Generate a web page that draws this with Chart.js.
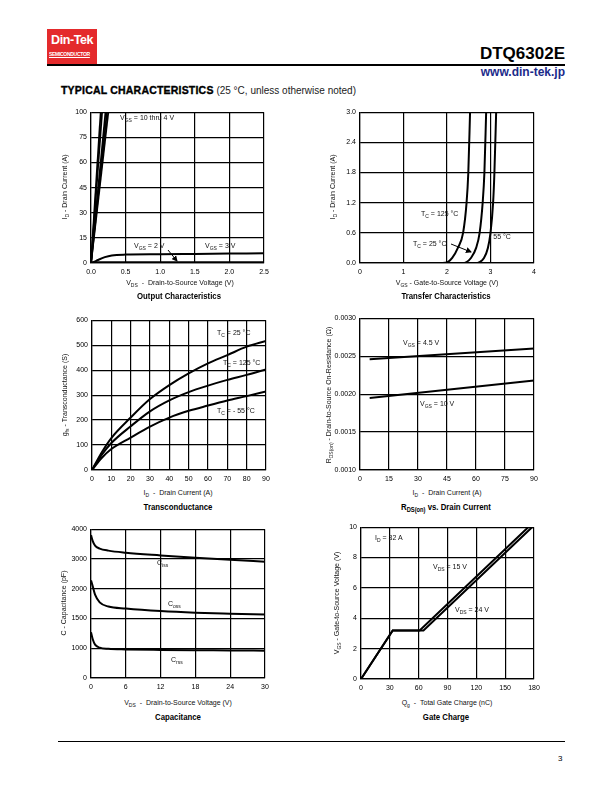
<!DOCTYPE html>
<html>
<head>
<meta charset="utf-8">
<script src="https://cdn.jsdelivr.net/npm/chart.js@4.4.1/dist/chart.umd.min.js"></script>
<style>
body{margin:0;width:612px;height:792px;position:relative;background:#fff;font-family:"Liberation Sans",Arial,sans-serif;overflow:hidden;color:#000}
.abs{position:absolute;white-space:nowrap}
canvas{position:absolute}
.lbl{position:absolute;white-space:nowrap;font-size:7px;line-height:8px;color:#111}
sub{font-size:5px;vertical-align:-1.5px;line-height:0}
.ttl{position:absolute;white-space:nowrap;font-weight:bold;font-size:9.5px;line-height:10px;transform:translateX(-50%) scaleX(0.82)}
.ttl sub{font-size:7px}
.xt{position:absolute;white-space:nowrap;font-size:7px;line-height:8px;transform:translateX(-50%);color:#111}
.yt{position:absolute;white-space:nowrap;font-size:7px;line-height:8px;transform:translate(-50%,-50%) rotate(-90deg);color:#111}
</style>
</head>
<body>

<!-- header -->
<div class="abs" style="left:47px;top:29px;width:50px;height:35px;background:#e42a2c"></div>
<div class="abs" style="left:51px;top:33px;color:#fff;font-weight:bold;font-size:12.5px;line-height:15px;letter-spacing:-0.4px">Din-Tek</div>
<div class="abs" style="left:49px;top:51px;color:#fff;font-weight:bold;font-size:5.6px;line-height:7px;letter-spacing:-0.35px;text-decoration:underline;transform:scaleX(0.9);transform-origin:left top">SEMICONDUCTOR</div>
<div class="abs" style="left:47px;top:64px;width:518px;height:1.5px;background:#000"></div>
<div class="abs" style="right:47px;top:45px;font-weight:bold;font-size:17px;line-height:18px">DTQ6302E</div>
<div class="abs" style="right:47px;top:66px;font-weight:bold;font-size:12px;line-height:13px;color:#1b2a8a">www.din-tek.jp</div>
<div class="abs" style="left:61px;top:84px;font-size:10px;line-height:12px"><span style="font-weight:900;font-size:10.5px;-webkit-text-stroke:0.35px #000;letter-spacing:0.2px">TYPICAL CHARACTERISTICS</span> <span style="color:#222">(25 °C, unless otherwise noted)</span></div>

<!-- footer -->
<div class="abs" style="left:58px;top:741px;width:507px;height:1px;background:#000"></div>
<div class="abs" style="left:558px;top:754px;font-size:8px;line-height:9px">3</div>

<canvas id="c1" width="220" height="178"></canvas>
<canvas id="c2" width="220" height="178"></canvas>
<canvas id="c3" width="220" height="178"></canvas>
<canvas id="c4" width="220" height="178"></canvas>
<canvas id="c5" width="220" height="178"></canvas>
<canvas id="c6" width="220" height="178"></canvas>

<!-- chart 1 texts -->
<div class="yt" style="left:65px;top:187px">I<sub>D</sub> - Drain Current (A)</div>
<div class="xt" style="left:180px;top:279px">V<sub>DS</sub> &nbsp;- &nbsp;Drain-to-Source Voltage (V)</div>
<div class="ttl" style="left:179px;top:291px">Output Characteristics</div>
<div class="lbl" style="left:120px;top:114px">V<sub>GS</sub> = 10 thru 4 V</div>
<div class="lbl" style="left:134px;top:242px">V<sub>GS</sub> = 2 V</div>
<div class="lbl" style="left:205px;top:242px">V<sub>GS</sub> = 3 V</div>

<!-- chart 2 texts -->
<div class="yt" style="left:333px;top:187px">I<sub>D</sub> - Drain Current (A)</div>
<div class="xt" style="left:447px;top:279px">V<sub>GS</sub> - Gate-to-Source Voltage (V)</div>
<div class="ttl" style="left:446px;top:291px">Transfer Characteristics</div>
<div class="lbl" style="left:421px;top:210px">T<sub>C</sub> = 125 °C</div>
<div class="lbl" style="left:413px;top:240px">T<sub>C</sub> = 25 °C</div>
<div class="lbl" style="left:489px;top:233px">- 55 °C</div>

<!-- chart 3 texts -->
<div class="yt" style="left:65px;top:395px">g<sub>fs</sub> - Transconductance (S)</div>
<div class="xt" style="left:178px;top:489px">I<sub>D</sub> &nbsp;- &nbsp;Drain Current (A)</div>
<div class="ttl" style="left:178px;top:502px">Transconductance</div>
<div class="lbl" style="left:217px;top:329px">T<sub>C</sub> = 25 °C</div>
<div class="lbl" style="left:223px;top:359px">T<sub>C</sub> = 125 °C</div>
<div class="lbl" style="left:217px;top:407px">T<sub>C</sub> = - 55 °C</div>

<!-- chart 4 texts -->
<div class="yt" style="left:329px;top:395px">R<sub>DS(on)</sub> - Drain-to-Source On-Resistance (Ω)</div>
<div class="xt" style="left:447px;top:489px">I<sub>D</sub> &nbsp;- &nbsp;Drain Current (A)</div>
<div class="ttl" style="left:446px;top:502px">R<sub>DS(on)</sub> vs. Drain Current</div>
<div class="lbl" style="left:403px;top:339px">V<sub>GS</sub> = 4.5 V</div>
<div class="lbl" style="left:420px;top:400px">V<sub>GS</sub> = 10 V</div>

<!-- chart 5 texts -->
<div class="yt" style="left:64px;top:603px">C - Capacitance (pF)</div>
<div class="xt" style="left:178px;top:699px">V<sub>DS</sub> &nbsp;- &nbsp;Drain-to-Source Voltage (V)</div>
<div class="ttl" style="left:178px;top:712px">Capacitance</div>
<div class="lbl" style="left:157px;top:559px">C<sub>iss</sub></div>
<div class="lbl" style="left:168px;top:600px">C<sub>oss</sub></div>
<div class="lbl" style="left:171px;top:656px">C<sub>rss</sub></div>

<!-- chart 6 texts -->
<div class="yt" style="left:337px;top:603px">V<sub>GS</sub> - Gate-to-Source Voltage (V)</div>
<div class="xt" style="left:447px;top:699px">Q<sub>g</sub> &nbsp;- &nbsp;Total Gate Charge (nC)</div>
<div class="ttl" style="left:446px;top:712px">Gate Charge</div>
<div class="lbl" style="left:375px;top:534px">I<sub>D</sub> = 32 A</div>
<div class="lbl" style="left:433px;top:563px">V<sub>DS</sub> = 15 V</div>
<div class="lbl" style="left:455px;top:606px">V<sub>DS</sub> = 24 V</div>

<svg class="abs" style="left:0;top:0" width="612" height="792">
  <defs>
    <marker id="ah" markerWidth="6" markerHeight="6" refX="5" refY="3" orient="auto" markerUnits="userSpaceOnUse">
      <path d="M0,0 L6,3 L0,6 z" fill="#000"/>
    </marker>
  </defs>
  <line x1="168" y1="250" x2="177" y2="261" stroke="#000" stroke-width="1" marker-end="url(#ah)"/>
  <line x1="451" y1="244" x2="471" y2="252" stroke="#000" stroke-width="1" marker-end="url(#ah)"/>
</svg>

<script>
// ---- output characteristics ----
const outYTicks = [0, 15, 30, 45, 60, 75, 100];
const outSteepTopX = [0.14, 0.16, 0.21, 0.23, 0.25];   // Vgs 10..4 V lines reach 100 A
const out3Vx = [0, 0.05, 0.1, 0.2, 0.3, 0.5, 1.0, 1.5, 2.0, 2.5];
const out3Vy = [0, 0.8, 1.8, 3.5, 4.5, 5.0, 5.2, 5.4, 5.6, 5.8];
const out2Vx = [0, 1.25, 2.5];
const out2Vy = [0.3, 0.3, 0.3];

// ---- transfer characteristics ----
const tr125x = [0, 1.9, 2.0, 2.12, 2.25, 2.37, 2.45, 2.49, 2.53];
const tr125y = [0, 0, 0.01, 0.1, 0.3, 0.6, 1.2, 1.8, 3.0];
const tr25x = [0, 2.35, 2.45, 2.55, 2.67, 2.75, 2.82, 2.86, 2.9];
const tr25y = [0, 0, 0.02, 0.1, 0.3, 0.6, 1.2, 1.8, 3.0];
const trM55x = [0, 2.65, 2.75, 2.85, 2.94, 3.0, 3.06, 3.09, 3.13];
const trM55y = [0, 0, 0.02, 0.1, 0.3, 0.6, 1.2, 1.8, 3.0];

// ---- transconductance ----
const gfsId = [0, 5, 10, 20, 30, 40, 50, 60, 70, 80, 90];
const gfs25 = [0, 70, 128, 210, 284, 340, 387, 427, 460, 494, 517];
const gfs125 = [0, 60, 108, 175, 235, 279, 312, 338, 361, 381, 403];
const gfsM55 = [0, 48, 84, 130, 174, 210, 237, 258, 278, 296, 315];

// ---- rds(on) ----
const rdsId = [5, 90];
const rds45 = [0.00246, 0.0026];
const rds10 = [0.00195, 0.00218];

// ---- capacitance ----
const capYTicks = [0, 1000, 1500, 2000, 3000, 4000];
const capVds = [0, 0.3, 0.7, 1.5, 3, 6, 12, 18, 24, 30];
const ciss = [3800, 3600, 3450, 3350, 3280, 3210, 3120, 3040, 2970, 2910];
const coss = [2280, 2080, 1900, 1770, 1700, 1667, 1624, 1597, 1581, 1568];
const crss = [1270, 1150, 1060, 1010, 980, 961, 944, 933, 928, 917];

// ---- gate charge ----
const qg15 = [0, 33, 61, 174];
const vgs15 = [0, 3.2, 3.2, 10];
const qg24 = [0, 33, 65, 178];
const vgs24 = [0, 3.2, 3.2, 10];

// tick labels on two plots are not evenly valued, map values onto grid steps
function toGrid(v, ticks) {
  for (let i = 0; i < ticks.length - 1; i++) {
    if (v <= ticks[i + 1]) return i + (v - ticks[i]) / (ticks[i + 1] - ticks[i]);
  }
  return ticks.length - 1;
}

function pts(xs, ys, fy) {
  return xs.map((x, i) => ({x: x, y: fy ? fy(ys[i]) : ys[i]}));
}

function line(xs, ys, fy, w, curve) {
  return {
    data: pts(xs, ys, fy),
    showLine: true,
    borderColor: '#000',
    borderWidth: w || 2,
    pointRadius: 0,
    cubicInterpolationMode: curve ? 'monotone' : 'default',
    tension: 0
  };
}

const tickFont = {family: 'Liberation Sans', size: 7};
const YW = 34, XH = 18, PT = 8, PR = 12;

function makeChart(id, area, xs, ys, datasets) {
  const cv = document.getElementById(id);
  cv.width = area.w + YW + PR;
  cv.height = area.h + PT + XH;
  cv.style.left = (area.l - YW) + 'px';
  cv.style.top = (area.t - PT) + 'px';
  const axis = (o, fit) => ({
    type: 'linear',
    min: o.min, max: o.max,
    ticks: {stepSize: o.step, callback: o.fmt, font: tickFont, color: '#000', padding: o.pad, autoSkip: false, maxRotation: 0},
    grid: {color: '#000', lineWidth: 1.2, drawTicks: false},
    border: {color: '#000', width: 1.2},
    afterFit: fit
  });
  new Chart(cv, {
    type: 'scatter',
    data: {datasets: datasets},
    options: {
      responsive: false,
      animation: false,
      layout: {padding: {top: PT, right: PR, left: 0, bottom: 0}},
      plugins: {legend: {display: false}, tooltip: {enabled: false}},
      scales: {
        x: axis(Object.assign({pad: 5}, xs), s => { s.height = XH; }),
        y: axis(Object.assign({pad: 4}, ys), s => { s.width = YW; })
      }
    }
  });
}

const fixed = n => v => Number(v).toFixed(n);

const outG = v => toGrid(v, outYTicks);
makeChart('c1', {l: 91, t: 112, w: 173, h: 151},
  {min: 0, max: 2.5, step: 0.5, fmt: fixed(1)},
  {min: 0, max: 6, step: 1, fmt: v => outYTicks[v]},
  outSteepTopX.map(x => line([0, x], [0, 100], outG, 1.8))
    .concat([line(out3Vx, out3Vy, outG, 2, true), line(out2Vx, out2Vy, outG, 2.5)]));

makeChart('c2', {l: 360, t: 112, w: 174, h: 151},
  {min: 0, max: 4, step: 1, fmt: fixed(0)},
  {min: 0, max: 3, step: 0.6, fmt: fixed(1)},
  [line(tr125x, tr125y, null, 2, true), line(tr25x, tr25y, null, 2, true), line(trM55x, trM55y, null, 2, true)]);

makeChart('c3', {l: 92, t: 320, w: 174, h: 150},
  {min: 0, max: 90, step: 10, fmt: fixed(0)},
  {min: 0, max: 600, step: 100, fmt: fixed(0)},
  [line(gfsId, gfs25, null, 2, true), line(gfsId, gfs125, null, 2, true), line(gfsId, gfsM55, null, 2, true)]);

makeChart('c4', {l: 360, t: 318, w: 174, h: 152},
  {min: 0, max: 90, step: 15, fmt: fixed(0)},
  {min: 0.001, max: 0.003, step: 0.0005, fmt: fixed(4)},
  [line(rdsId, rds45, null, 2), line(rdsId, rds10, null, 2)]);

const capG = v => toGrid(v, capYTicks);
makeChart('c5', {l: 91, t: 529, w: 174, h: 149},
  {min: 0, max: 30, step: 6, fmt: fixed(0)},
  {min: 0, max: 5, step: 1, fmt: v => capYTicks[v]},
  [line(capVds, ciss, capG, 2, true), line(capVds, coss, capG, 2, true), line(capVds, crss, capG, 2, true)]);

makeChart('c6', {l: 361, t: 527, w: 173, h: 152},
  {min: 0, max: 180, step: 30, fmt: fixed(0)},
  {min: 0, max: 10, step: 2, fmt: fixed(0)},
  [line(qg15, vgs15, null, 2), line(qg24, vgs24, null, 2)]);
</script>
</body>
</html>
